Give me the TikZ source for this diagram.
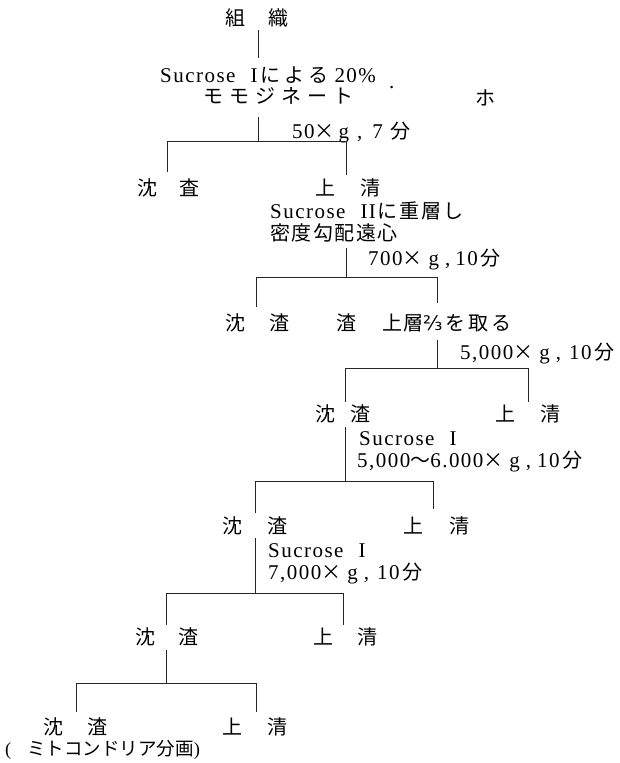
\documentclass[tikz,border=0pt]{standalone}
\usepackage{fontspec}
\newfontfamily\latinfont{Liberation Serif}[LetterSpace=7]
\newfontfamily\jpfont{Noto Sans CJK JP}
\newfontfamily\symfont{DejaVu Sans}
\newcommand\JP[1]{{\jpfont\fontsize{20}{22}\selectfont #1}}
\newcommand\hs[1]{\hspace{#1pt}}
\begin{document}
\begin{tikzpicture}[x=1pt,y=-1pt,
  ln/.style={line width=0.9pt, black!85},
  lt/.style={anchor=base west, inner sep=0pt, font=\latinfont\fontsize{21}{24}\selectfont},
  jt/.style={anchor=base west, inner sep=0pt, font=\jpfont\fontsize{20}{22}\selectfont}]
\useasboundingbox (0,0) rectangle (619,763);
% texts
\node[jt] (t1) at (225,25) {組\hs{23}織};
\node[lt] (t2) at (160,82) {Sucrose\hs{15}I\hs{3}\JP{に\hs{4}よ\hs{4}る}\hs{6}20\%};
\node[lt] (dot) at (389,88) {.};
\node[jt] (t3) at (203,103) {モ\hs{6}モ\hs{6}ジ\hs{6}ネ\hs{6}ー\hs{6}ト};
\node[jt] (t4) at (475,105) {ホ};
\node[lt] (t5) at (292,138) {50\JP{×}\hs{4}g\hs{8},\hs{10}7\hs{8}\JP{分}};
\node[jt] (t6) at (137,195) {沈\hs{22}査};
\node[jt] (t7) at (315,195) {上\hs{25}清};
\node[lt] (t8) at (270,218) {Sucrose\hs{15}II\hs{2}\JP{に\hs{2}重\hs{2}層\hs{2}し}};
\node[jt] (t9) at (270,240) {密\hs{1.5}度\hs{1.5}勾\hs{1.5}配\hs{1.5}遠\hs{1.5}心};
\node[lt] (t10) at (368,265) {700\JP{×}\hs{6}g\hs{6},\hs{5}10\hs{3}\JP{分}};
\node[jt] (t11) at (225,330) {沈\hs{24}渣};
\node[jt] (t12) at (336,330) {渣};
\node[jt] (t13) at (382,330) {上\hs{1}層{\symfont ⅔}\hs{3}を\hs{3}取\hs{3}る};
\node[lt] (t14) at (460,359) {5,000\JP{×}\hs{6}g\hs{6},\hs{8}10\hs{3}\JP{分}};
\node[jt] (t15) at (315,421) {沈\hs{15}渣};
\node[jt] (t16) at (495,421) {上\hs{25}清};
\node[lt] (t17) at (359,445) {Sucrose\hs{15}I};
\node[lt] (t18) at (357,467) {5,000\JP{～}6.000\JP{×}\hs{6}g\hs{6},\hs{6}10\hs{3}\JP{分}};
\node[jt] (t19) at (222,533) {沈\hs{25}渣};
\node[jt] (t20) at (403,533) {上\hs{26}清};
\node[lt] (t21) at (268,557) {Sucrose\hs{15}I};
\node[lt] (t22) at (268,579) {7,000\JP{×}\hs{6}g\hs{6},\hs{8}10\hs{3}\JP{分}};
\node[jt] (t23) at (135,644) {沈\hs{23}渣};
\node[jt] (t24) at (313,644) {上\hs{24}清};
\node[jt] (t25) at (43,734) {沈\hs{24}渣};
\node[jt] (t26) at (222,734) {上\hs{25}清};
\node[jt, font=\jpfont\fontsize{18.5}{21}\selectfont] (t27) at (5,755) {{\latinfont (}\hs{16}ミトコンドリア分画{\latinfont )}};
% connectors
\coordinate (s0) at (258,30); \coordinate (e0) at (258,58);
\draw[ln] (s0) -- (e0);
\foreach \n/\sx/\st/\hy/\lx/\rx/\lb/\rb in {
  1/258/117/141/167/346/172/175,
  2/346/248/277/256/437/307/303,
  3/437/340/368/345/528/402/402,
  4/345/427/481/255/433/513/509,
  5/255/538/593/166/343/625/625,
  6/166/650/683/76/256/712/712}{
  \coordinate (s\n) at (\sx,\st);
  \coordinate (j\n) at (\sx,\hy);
  \coordinate (l\n) at (\lx,\hy);
  \coordinate (r\n) at (\rx,\hy);
  \coordinate (lb\n) at (\lx,\lb);
  \coordinate (rb\n) at (\rx,\rb);
  \draw[ln] (s\n) -- (j\n);
  \draw[ln] (lb\n) -- (l\n) -- (r\n) -- (rb\n);
}
\end{tikzpicture}
\end{document}
